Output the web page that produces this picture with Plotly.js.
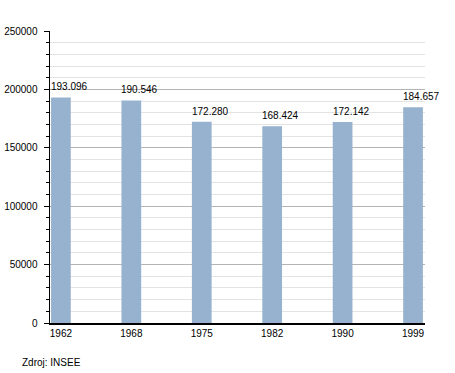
<!DOCTYPE html>
<html>
<head>
<meta charset="utf-8">
<script src="https://cdn.plot.ly/plotly-3.0.1.min.js"></script>
<style>html,body{margin:0;padding:0;background:#fff;}#chart{width:455px;height:373px;}</style>
</head>
<body>
<div id="chart"></div>
<script>
const years = ["1962", "1968", "1975", "1982", "1990", "1999"];
const population = [193096, 190546, 172280, 168424, 172142, 184657];
const valueLabels = ["193.096", "190.546", "172.280", "168.424", "172.142", "184.657"];
const sourceText = "Zdroj: INSEE";

const barWidth = 0.28;
const font = {family: "Liberation Sans, Arial, sans-serif", size: 10, color: "#000"};

const annotations = years.map((y, i) => ({
  x: i - barWidth / 2, y: population[i], xref: "x", yref: "y",
  text: valueLabels[i], showarrow: false, xanchor: "left", yanchor: "bottom",
  yshift: 3, xshift: -2, font: font
}));
annotations.push({
  xref: "paper", yref: "paper", x: -30 / 375, y: -39 / 292,
  xanchor: "left", yanchor: "middle", text: sourceText, showarrow: false, font: font
});

Plotly.newPlot("chart", [{
  type: "bar", x: years, y: population, width: barWidth,
  marker: {color: "#97b2ce", line: {width: 0}},
  hoverinfo: "none"
}], {
  width: 455, height: 373,
  margin: {l: 50, r: 30, t: 31, b: 50, pad: 0},
  paper_bgcolor: "#fff", plot_bgcolor: "#fff",
  showlegend: false,
  font: font,
  xaxis: {
    type: "category", range: [-0.155, 5.17], fixedrange: true,
    showgrid: false, showline: true, linecolor: "#000", linewidth: 1.5,
    ticks: "", tickfont: font, zeroline: false
  },
  yaxis: {
    range: [0, 250000], dtick: 50000, tick0: 0, fixedrange: true,
    showline: true, linecolor: "#000", linewidth: 1.5,
    ticks: "outside", ticklen: 5, tickcolor: "#000", tickwidth: 1,
    showgrid: true, gridcolor: "#b4b4b4", gridwidth: 1,
    zeroline: false, tickfont: font, tickformat: "d",
    ticklabelstandoff: 4,
    minor: {dtick: 10000, ticks: "outside", ticklen: 3, tickcolor: "#000",
            showgrid: true, gridcolor: "#e3e3e3", gridwidth: 1}
  },
  annotations: annotations
}, {staticPlot: true, displayModeBar: false});
</script>
</body>
</html>
